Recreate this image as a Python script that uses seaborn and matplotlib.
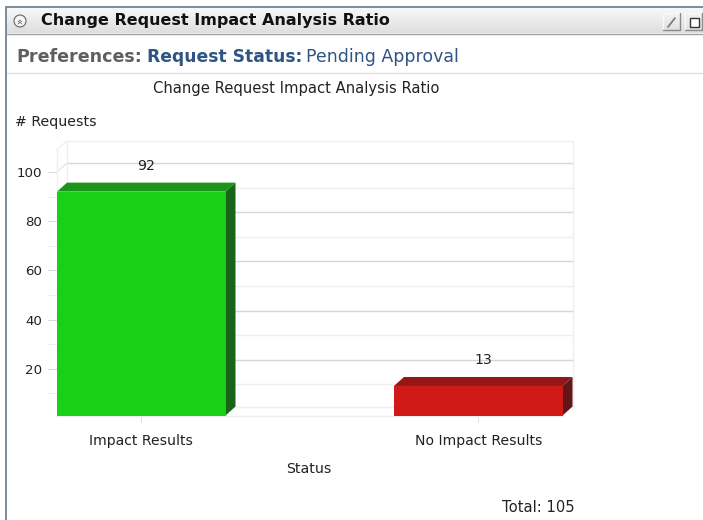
import matplotlib
matplotlib.use("Agg")
import matplotlib.pyplot as plt
from matplotlib.patches import Polygon, Rectangle, Circle
from matplotlib.transforms import Affine2D
import numpy as np
import pandas as pd
import seaborn as sns

categories = ["Impact Results", "No Impact Results"]
values = [92, 13]
front_colors = ["#18d018", "#cf1a17"]
top_colors = ["#1a951a", "#941616"]
side_colors = ["#1a641a", "#641515"]
major_ticks = [20, 40, 60, 80, 100]
minor_ticks = [10, 30, 50, 70, 90]
chart_title = "Change Request Impact Analysis Ratio"
y_title = "# Requests"
x_title = "Status"
total_label = "Total: 105"

W, H = 703, 520
DX, DY = 10, 9
sns.set_theme(style="white")
plt.rcParams["font.family"] = ["DejaVu Sans"]

fig = plt.figure(figsize=(W / 100, H / 100), dpi=100, facecolor="white")

# page chrome in pixel coordinates
bg = fig.add_axes([0, 0, 1, 1], zorder=0)
grad = np.linspace(0.97, 0.87, 30).reshape(-1, 1)
bg.imshow(grad, extent=[6, W, 33, 8], cmap="gray", vmin=0, vmax=1, aspect="auto", zorder=1)
bg.set_xlim(0, W)
bg.set_ylim(H, 0)
bg.axis("off")
bg.plot([6, W], [7, 7], color="#7f8a99", lw=1.4, zorder=3)
bg.plot([6, 6], [7, H], color="#7f8a99", lw=1.4, zorder=3)
bg.plot([6, W], [34, 34], color="#9aa0a8", lw=1, zorder=3)
bg.plot([7, W], [73, 73], color="#dddddd", lw=1, zorder=3)
bg.add_patch(Circle((20, 21), 6, fc="#f4f4f4", ec="#666666", lw=0.8, zorder=4))
bg.text(20, 21, "\u00bb", rotation=90, fontsize=7, ha="center", va="center", color="#555555", zorder=5)
bg.text(41, 20.5, chart_title, fontsize=11.5, fontweight="bold",
        color="#111111", ha="left", va="center", zorder=5)
bg.text(16, 57, "Preferences:", fontsize=12.6, fontweight="bold",
        color="#5f5f5f", ha="left", va="center")
bg.text(147, 57, "Request Status:", fontsize=12.3, fontweight="bold",
        color="#2f5585", ha="left", va="center")
bg.text(306, 57, "Pending Approval", fontsize=12.5, color="#2f5585", ha="left", va="center")
for x0 in (663, 685):
    bg.plot([x0, x0, x0 + 17], [30, 13, 13], color="#f8f8f8", lw=1, zorder=4)
    bg.plot([x0, x0 + 17, x0 + 17], [30, 30, 13], color="#8a8a8a", lw=1, zorder=4)
bg.plot([668, 675], [27, 18], color="#777777", lw=1.2, zorder=5)
bg.add_patch(Rectangle((690, 18), 9, 9, fc="white", ec="#333333", lw=1, zorder=5))
bg.text(296, 89, chart_title, fontsize=10.6, color="#222222", ha="center", va="center")
bg.text(15, 122, y_title, fontsize=10.2, color="#222222", ha="left", va="center")
bg.text(309, 469, x_title, fontsize=10.2, color="#222222", ha="center", va="center")
bg.text(575, 508, total_label, fontsize=10.6, color="#222222", ha="right", va="center")

# chart plane
left, right, top, bottom = 57, 562.5, 149.8, 415.5
ax = fig.add_axes([left / W, 1 - bottom / H, (right - left) / W, (bottom - top) / H], zorder=2)
ax.patch.set_visible(False)
df = pd.DataFrame({"Status": categories, "Requests": values})
sns.barplot(data=df, x="Status", y="Requests", hue="Status", hue_order=categories,
            palette=front_colors, width=0.5, saturation=1, legend=False, ax=ax, zorder=5,
            linewidth=0)
ax.set_xlim(-0.25, 1.25)
ax.set_ylim(1, 109)
ax.set_xlabel("")
ax.set_ylabel("")
sns.despine(ax=ax, left=True, bottom=True, top=True, right=True)
ax.set_yticks(major_ticks)
ax.set_yticks(minor_ticks, minor=True)
ax.tick_params(axis="y", which="major", length=6.5, width=0.7, color="#d8d8d8",
               labelsize=9.6, labelcolor="#222222", pad=4, left=True)
ax.tick_params(axis="y", which="minor", length=6.5, width=0.7, color="#eeeeee", left=True)
ax.tick_params(axis="x", length=4.5, width=0.7, color="#dddddd", labelsize=10.1,
               labelcolor="#222222", pad=9, bottom=True)

back = ax.transData + Affine2D().translate(DX, DY)
xmin, xmax = ax.get_xlim()
ymin, ymax = ax.get_ylim()


def pixel_line(p, q, col):
    ax.add_artist(plt.Line2D([p[0], q[0]], [p[1], q[1]], transform=None, color=col, lw=1,
                             zorder=1, clip_on=False))


# back wall grid, left wall and floor
for tick, col in [(t, "#d6d6d6") for t in major_ticks] + [(t, "#efefef") for t in minor_ticks]:
    ax.plot([xmin, xmax], [tick, tick], transform=back, color=col, lw=1, zorder=1, clip_on=False)
    p0 = ax.transData.transform((xmin, tick))
    pixel_line(p0, p0 + (DX, DY), "#e6e6e6" if tick in major_ticks else "#f2f2f2")
wall = "#efefef"
ax.plot([xmin, xmax, xmax], [ymax, ymax, ymin], transform=back, color=wall, lw=1, zorder=1, clip_on=False)
ax.plot([xmin, xmin, xmax], [ymax, ymin, ymin], transform=back, color=wall, lw=1, zorder=1, clip_on=False)
p_tl = ax.transData.transform((xmin, ymax))
p_bl = ax.transData.transform((xmin, ymin))
p_br = ax.transData.transform((xmax, ymin))
pixel_line(p_tl, p_tl + (DX, DY), wall)
pixel_line(p_tl, p_bl, wall)
pixel_line(p_bl, p_br, wall)
pixel_line(p_br, p_br + (DX, DY), wall)

# extrude the seaborn bars
for bar, v, tc, sc in zip(ax.patches, values, top_colors, side_colors):
    x0, x1 = bar.get_x(), bar.get_x() + bar.get_width()
    a = ax.transData.transform((x0, v))
    b = ax.transData.transform((x1, v))
    c = ax.transData.transform((x1, ymin))
    top_face = [a, b, b + (DX, DY), a + (DX, DY)]
    side_face = [b, c, c + (DX, DY), b + (DX, DY)]
    ax.add_artist(Polygon(top_face, closed=True, fc=tc, ec="none", transform=None, zorder=4, clip_on=False))
    ax.add_artist(Polygon(side_face, closed=True, fc=sc, ec="none", transform=None, zorder=4, clip_on=False))
    ax.annotate(str(v), xy=((x0 + x1) / 2, v), xytext=(5, 26), textcoords="offset pixels",
                ha="center", va="center", fontsize=10.2, color="#222222", zorder=6)

fig.savefig("out.png", dpi=100)
